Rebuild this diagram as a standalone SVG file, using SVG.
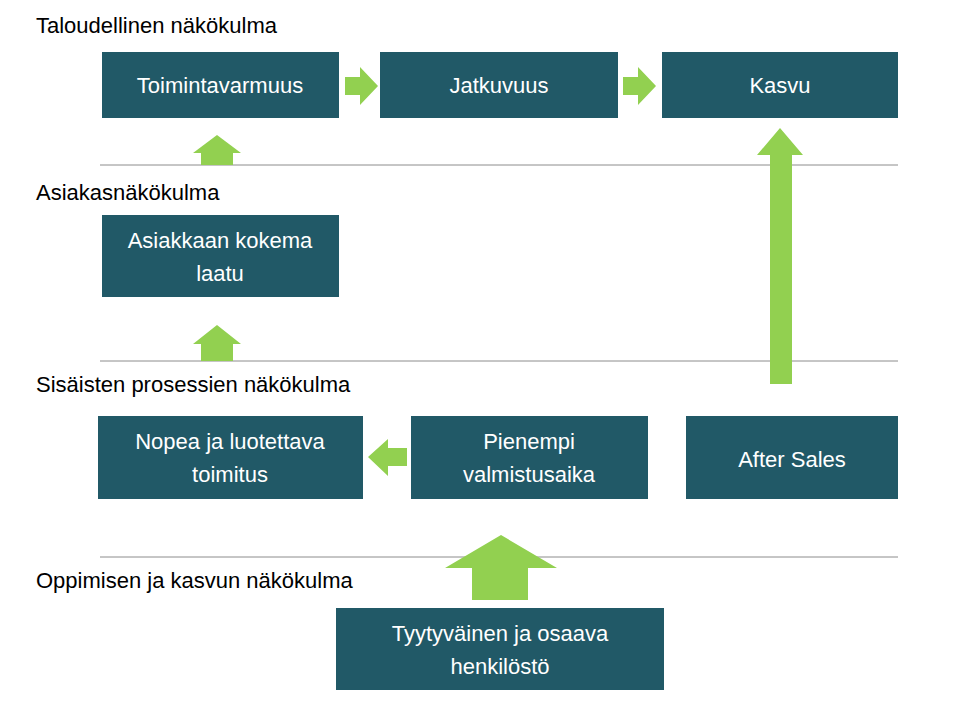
<svg xmlns="http://www.w3.org/2000/svg" width="954" height="722" viewBox="0 0 954 722">
<style>
.b{fill:#215967}
.t{font-family:"Liberation Sans",Arial,sans-serif;font-size:22px;fill:#fff;text-anchor:middle}
.h{font-family:"Liberation Sans",Arial,sans-serif;font-size:22px;fill:#000}
.a{fill:#92d050}
.l{stroke:#8c8c8c;stroke-width:1}
</style>
<rect width="954" height="722" fill="#fff"/>
<g id="headings">
<text class="h" x="36" y="33">Taloudellinen näkökulma</text>
<text class="h" x="36" y="200">Asiakasnäkökulma</text>
<text class="h" x="36" y="392">Sisäisten prosessien näkökulma</text>
<text class="h" x="36" y="588">Oppimisen ja kasvun näkökulma</text>
</g>
<g id="separators">
<line class="l" x1="100" y1="165" x2="898" y2="165"/>
<line class="l" x1="100" y1="361" x2="898" y2="361"/>
<line class="l" x1="100" y1="557" x2="898" y2="557"/>
</g>
<g id="n1"><rect class="b" x="102" y="52" width="237" height="66"/><text class="t" x="220" y="93">Toimintavarmuus</text></g>
<g id="n2"><rect class="b" x="380" y="52" width="238" height="66"/><text class="t" x="499" y="93">Jatkuvuus</text></g>
<g id="n3"><rect class="b" x="662" y="52" width="236" height="66"/><text class="t" x="780" y="93">Kasvu</text></g>
<g id="n4"><rect class="b" x="102" y="215" width="237" height="82"/><text class="t" x="220" y="248">Asiakkaan kokema</text><text class="t" x="220" y="281">laatu</text></g>
<g id="n5"><rect class="b" x="98" y="416" width="265" height="83"/><text class="t" x="230" y="449">Nopea ja luotettava</text><text class="t" x="230" y="482">toimitus</text></g>
<g id="n6"><rect class="b" x="411" y="416" width="237" height="83"/><text class="t" x="529" y="449">Pienempi</text><text class="t" x="529" y="482">valmistusaika</text></g>
<g id="n7"><rect class="b" x="686" y="416" width="212" height="83"/><text class="t" x="792" y="467">After Sales</text></g>
<g id="n8"><rect class="b" x="336" y="608" width="328" height="82"/><text class="t" x="500" y="641">Tyytyväinen ja osaava</text><text class="t" x="500" y="674">henkilöstö</text></g>
<g id="connectors">
<polygon class="a" points="345,77 360,77 360,67 378,86 360,105 360,95 345,95"/>
<polygon class="a" points="623,77 638,77 638,67 656,86 638,105 638,95 623,95"/>
<polygon class="a" points="201,165 201,153 193,153 217,135 241,153 233,153 233,165"/>
<polygon class="a" points="201,361 201,344 193,344 217,325 241,344 233,344 233,361"/>
<polygon class="a" points="407,448 388,448 388,439 368,457 388,476 388,466 407,466"/>
<polygon class="a" points="472,600 472,568 445,568 501,535 557,568 528,568 528,600"/>
<polygon class="a" points="770,384 770,155 757,155 780,128 803,155 792,155 792,384"/>
</g>
</svg>
